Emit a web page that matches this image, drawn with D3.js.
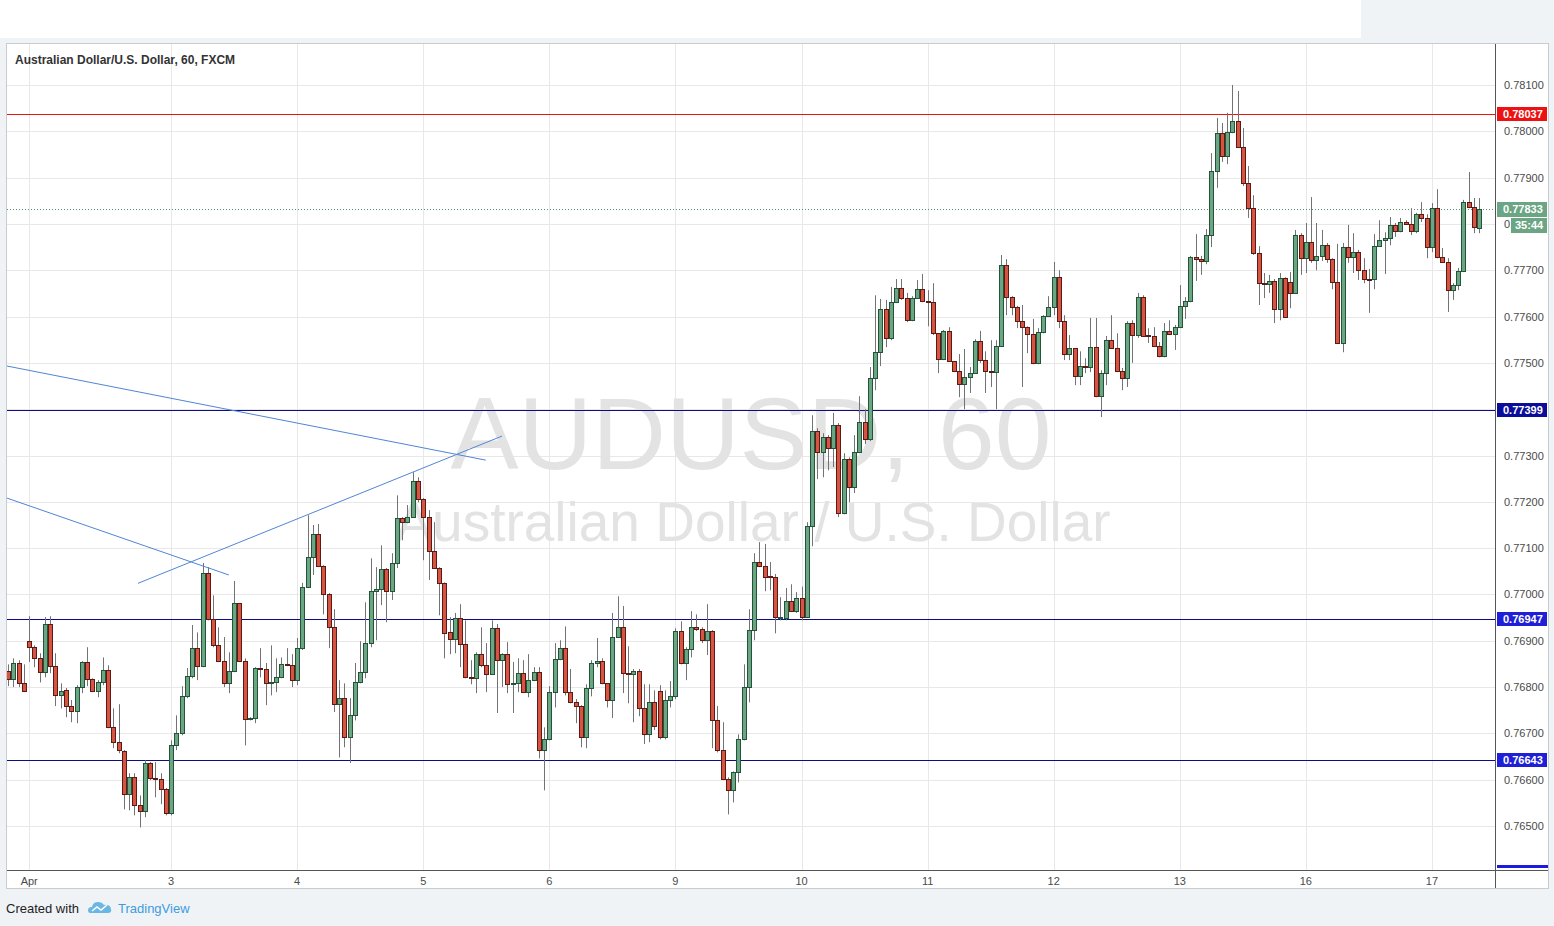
<!DOCTYPE html>
<html><head><meta charset="utf-8">
<script src="https://cdn.jsdelivr.net/npm/d3@7"></script>
<style>
html,body{margin:0;padding:0;background:#f0f3f6;}
svg{display:block;}
text{font-family:"Liberation Sans",Arial,sans-serif;}
</style></head><body>
<svg id="c" width="1554" height="926"></svg>
<script>
const symbolTitle = "Australian Dollar/U.S. Dollar, 60, FXCM";
const watermarkMain = "AUDUSD, 60";
const watermarkSub = "Australian Dollar / U.S. Dollar";
const monthNames = ["Jan","Feb","Mar","Apr","May","Jun","Jul","Aug","Sep","Oct","Nov","Dec"];
// trading sessions (UTC start, number of hourly bars)
const sessions = [["2018-03-30T17:00:00Z",4],["2018-04-01T21:00:00Z",120],["2018-04-08T21:00:00Z",120],["2018-04-15T21:00:00Z",37]];
const opens = [0.76834,0.76817,0.76852,0.76808,0.76899,0.76886,0.76862,0.76832,0.76936,0.76845,0.76782,0.76793,0.76759,0.76748,0.76800,0.76854,0.76817,0.76791,0.76810,0.76836,
0.76713,0.76681,0.76661,0.76569,0.76605,0.76545,0.76532,0.76636,0.76603,0.76601,0.76579,0.76528,0.76674,0.76700,0.76780,0.76823,0.76884,0.76845,0.77046,0.76947,
0.76890,0.76856,0.76808,0.76834,0.76981,0.76856,0.76731,0.76733,0.76841,0.76839,0.76808,0.76810,0.76821,0.76850,0.76848,0.76815,0.76884,0.77015,0.77080,0.77130,
0.77061,0.77001,0.76929,0.76763,0.76776,0.76692,0.76739,0.76810,0.76832,0.76895,0.77007,0.77011,0.77055,0.77007,0.77068,0.77165,0.77156,0.77167,0.77245,0.77206,
0.77167,0.77093,0.77057,0.77025,0.76918,0.76903,0.76949,0.76893,0.76821,0.76819,0.76871,0.76847,0.76828,0.76927,0.76858,0.76871,0.76806,0.76808,0.76830,0.76789,
0.76815,0.76832,0.76664,0.76687,0.76789,0.76860,0.76884,0.76789,0.76767,0.76759,0.76692,0.76798,0.76852,0.76856,0.76808,0.76772,0.76908,0.76929,0.76830,0.76828,
0.76834,0.76754,0.76698,0.76767,0.76791,0.76692,0.76772,0.76780,0.76921,0.76852,0.76882,0.76929,0.76925,0.76901,0.76921,0.76728,0.76664,0.76601,0.76577,0.76616,
0.76687,0.76800,0.76923,0.77070,0.77061,0.77039,0.77037,0.76949,0.76949,0.76985,0.76964,0.76992,0.76951,0.77147,0.77353,0.77307,0.77340,0.77316,0.77366,0.77176,
0.77292,0.77232,0.77307,0.77372,0.77335,0.77467,0.77523,0.77616,0.77554,0.77631,0.77662,0.77640,0.77592,0.77640,0.77659,0.77633,0.77631,0.77564,0.77508,0.77569,
0.77504,0.77482,0.77454,0.77469,0.77478,0.77547,0.77506,0.77482,0.77480,0.77536,0.77711,0.77642,0.77620,0.77590,0.77577,0.77562,0.77500,0.77566,0.77601,0.77620,
0.77685,0.77590,0.77519,0.77532,0.77471,0.77493,0.77491,0.77534,0.77428,0.77478,0.77549,0.77532,0.77482,0.77467,0.77586,0.77560,0.77642,0.77560,0.77558,0.77536,
0.77515,0.77569,0.77562,0.77577,0.77623,0.77633,0.77728,0.77724,0.77720,0.77776,0.77914,0.77996,0.77947,0.77998,0.78022,0.77966,0.77888,0.77834,0.77737,0.77672,
0.77670,0.77677,0.77616,0.77683,0.77674,0.77651,0.77776,0.77726,0.77761,0.77722,0.77731,0.77754,0.77724,0.77674,0.77543,0.77750,0.77728,0.77739,0.77700,0.77681,
0.77680,0.77752,0.77765,0.77770,0.77798,0.77785,0.77804,0.77800,0.77785,0.77821,0.77813,0.77750,0.77834,0.77728,0.77718,0.77657,0.77668,0.77698,0.77847,0.77836,
0.77793];
const highs = [0.76849,0.76862,0.76858,0.76849,0.76953,0.76890,0.76873,0.76951,0.76953,0.76873,0.76808,0.76798,0.76772,0.76804,0.76856,0.76886,0.76819,0.76815,0.76864,0.76847,
0.76754,0.76763,0.76664,0.76614,0.76614,0.76566,0.76642,0.76638,0.76638,0.76614,0.76582,0.76685,0.76739,0.76802,0.76841,0.76934,0.76918,0.77068,0.77059,0.76998,
0.76929,0.76908,0.76875,0.77029,0.76981,0.76862,0.76735,0.76843,0.76884,0.76852,0.76890,0.76862,0.76864,0.76884,0.76871,0.76906,0.77025,0.77171,0.77150,0.77152,
0.77063,0.77003,0.76968,0.76815,0.76808,0.76776,0.76852,0.76899,0.76983,0.77078,0.77059,0.77106,0.77057,0.77089,0.77214,0.77167,0.77193,0.77264,0.77253,0.77208,
0.77182,0.77156,0.77059,0.77026,0.76951,0.76960,0.76979,0.76944,0.76858,0.76875,0.76929,0.76895,0.76944,0.76936,0.76873,0.76897,0.76854,0.76862,0.76858,0.76871,
0.76843,0.76843,0.76713,0.76802,0.76895,0.76901,0.76931,0.76839,0.76774,0.76761,0.76806,0.76858,0.76906,0.76862,0.76808,0.76960,0.76996,0.76975,0.76888,0.76839,
0.76839,0.76806,0.76806,0.76793,0.76804,0.76793,0.76813,0.76927,0.76942,0.76886,0.76964,0.76957,0.76929,0.76979,0.76923,0.76759,0.76724,0.76605,0.76618,0.76698,
0.76849,0.76968,0.77089,0.77113,0.77109,0.77070,0.77044,0.76994,0.77014,0.77022,0.77005,0.77017,0.77156,0.77387,0.77359,0.77348,0.77344,0.77392,0.77370,0.77305,
0.77296,0.77344,0.77428,0.77400,0.77491,0.77646,0.77638,0.77636,0.77664,0.77681,0.77681,0.77651,0.77644,0.77679,0.77692,0.77657,0.77672,0.77564,0.77571,0.77577,
0.77504,0.77519,0.77530,0.77491,0.77551,0.77569,0.77525,0.77549,0.77549,0.77733,0.77724,0.77644,0.77623,0.77625,0.77579,0.77595,0.77575,0.77603,0.77644,0.77718,
0.77700,0.77603,0.77560,0.77532,0.77525,0.77510,0.77597,0.77597,0.77484,0.77558,0.77603,0.77564,0.77489,0.77590,0.77592,0.77651,0.77646,0.77575,0.77577,0.77545,
0.77586,0.77592,0.77582,0.77668,0.77642,0.77731,0.77778,0.77731,0.77789,0.77953,0.78029,0.78018,0.78040,0.78100,0.78087,0.78007,0.77925,0.77862,0.77752,0.77694,
0.77690,0.77681,0.77694,0.77685,0.77696,0.77787,0.77780,0.77802,0.77858,0.77802,0.77787,0.77759,0.77726,0.77757,0.77759,0.77798,0.77780,0.77744,0.77726,0.77703,
0.77778,0.77808,0.77782,0.77815,0.77802,0.77813,0.77808,0.77834,0.77824,0.77847,0.77821,0.77845,0.77875,0.77748,0.77726,0.77672,0.77705,0.77852,0.77912,0.77856,
0.77856];
const lows = [0.76802,0.76800,0.76800,0.76791,0.76854,0.76843,0.76810,0.76821,0.76830,0.76759,0.76754,0.76735,0.76724,0.76722,0.76787,0.76802,0.76789,0.76778,0.76804,0.76711,
0.76668,0.76657,0.76536,0.76534,0.76523,0.76497,0.76519,0.76599,0.76562,0.76547,0.76523,0.76523,0.76664,0.76696,0.76776,0.76819,0.76815,0.76843,0.76944,0.76886,
0.76854,0.76800,0.76787,0.76832,0.76854,0.76674,0.76728,0.76722,0.76821,0.76761,0.76782,0.76789,0.76819,0.76845,0.76800,0.76804,0.76880,0.77014,0.77042,0.77059,
0.76957,0.76884,0.76746,0.76648,0.76670,0.76636,0.76728,0.76808,0.76819,0.76886,0.76901,0.76977,0.76940,0.76988,0.77057,0.77117,0.77154,0.77165,0.77199,0.77074,
0.77031,0.77055,0.76955,0.76862,0.76871,0.76873,0.76843,0.76819,0.76806,0.76787,0.76843,0.76789,0.76826,0.76744,0.76800,0.76787,0.76744,0.76789,0.76787,0.76778,
0.76813,0.76646,0.76577,0.76685,0.76756,0.76858,0.76782,0.76765,0.76722,0.76670,0.76668,0.76780,0.76843,0.76806,0.76756,0.76733,0.76906,0.76787,0.76765,0.76724,
0.76737,0.76677,0.76681,0.76707,0.76687,0.76687,0.76756,0.76774,0.76849,0.76815,0.76864,0.76921,0.76895,0.76869,0.76668,0.76659,0.76599,0.76525,0.76551,0.76594,
0.76685,0.76767,0.76901,0.77059,0.77007,0.77009,0.76916,0.76944,0.76944,0.76962,0.76960,0.76944,0.76949,0.77104,0.77249,0.77253,0.77268,0.77275,0.77167,0.77173,
0.77199,0.77219,0.77305,0.77325,0.77331,0.77441,0.77493,0.77534,0.77549,0.77629,0.77636,0.77588,0.77590,0.77638,0.77631,0.77579,0.77560,0.77478,0.77506,0.77502,
0.77480,0.77426,0.77400,0.77435,0.77476,0.77500,0.77435,0.77448,0.77400,0.77536,0.77603,0.77603,0.77575,0.77448,0.77521,0.77497,0.77497,0.77564,0.77599,0.77603,
0.77575,0.77506,0.77506,0.77452,0.77452,0.77478,0.77480,0.77426,0.77383,0.77452,0.77530,0.77480,0.77441,0.77448,0.77500,0.77554,0.77556,0.77543,0.77534,0.77512,
0.77512,0.77560,0.77528,0.77575,0.77595,0.77631,0.77677,0.77690,0.77713,0.77750,0.77878,0.77934,0.77929,0.77996,0.77964,0.77882,0.77813,0.77733,0.77625,0.77640,
0.77651,0.77586,0.77592,0.77597,0.77618,0.77649,0.77690,0.77694,0.77716,0.77700,0.77720,0.77716,0.77659,0.77541,0.77523,0.77716,0.77694,0.77679,0.77672,0.77608,
0.77659,0.77750,0.77692,0.77754,0.77772,0.77782,0.77798,0.77776,0.77780,0.77804,0.77726,0.77739,0.77726,0.77716,0.77610,0.77636,0.77657,0.77696,0.77834,0.77780,
0.77780];
const closes = [0.76817,0.76852,0.76808,0.76791,0.76886,0.76862,0.76832,0.76936,0.76845,0.76782,0.76791,0.76759,0.76748,0.76800,0.76854,0.76817,0.76791,0.76810,0.76836,0.76713,
0.76681,0.76664,0.76569,0.76605,0.76545,0.76532,0.76636,0.76603,0.76601,0.76579,0.76528,0.76674,0.76700,0.76780,0.76823,0.76884,0.76845,0.77046,0.76947,0.76890,
0.76856,0.76808,0.76834,0.76981,0.76856,0.76731,0.76733,0.76841,0.76839,0.76808,0.76810,0.76821,0.76849,0.76848,0.76815,0.76884,0.77015,0.77080,0.77130,0.77061,
0.77001,0.76929,0.76763,0.76776,0.76692,0.76739,0.76810,0.76832,0.76895,0.77007,0.77011,0.77055,0.77007,0.77068,0.77165,0.77156,0.77167,0.77245,0.77206,0.77167,
0.77093,0.77057,0.77025,0.76918,0.76903,0.76949,0.76893,0.76821,0.76819,0.76871,0.76847,0.76828,0.76927,0.76858,0.76871,0.76806,0.76808,0.76830,0.76789,0.76815,
0.76832,0.76664,0.76687,0.76789,0.76860,0.76884,0.76789,0.76767,0.76759,0.76692,0.76798,0.76852,0.76856,0.76808,0.76772,0.76908,0.76929,0.76830,0.76828,0.76834,
0.76754,0.76698,0.76767,0.76715,0.76692,0.76772,0.76780,0.76921,0.76852,0.76882,0.76929,0.76925,0.76901,0.76921,0.76728,0.76664,0.76601,0.76577,0.76616,0.76687,
0.76800,0.76923,0.77070,0.77061,0.77037,0.77037,0.76951,0.76951,0.76985,0.76964,0.76992,0.76951,0.77147,0.77353,0.77307,0.77340,0.77316,0.77366,0.77176,0.77292,
0.77232,0.77307,0.77372,0.77335,0.77467,0.77523,0.77616,0.77554,0.77631,0.77662,0.77640,0.77592,0.77640,0.77659,0.77633,0.77631,0.77564,0.77508,0.77569,0.77504,
0.77482,0.77454,0.77469,0.77478,0.77547,0.77506,0.77482,0.77480,0.77536,0.77711,0.77642,0.77620,0.77590,0.77577,0.77562,0.77500,0.77566,0.77601,0.77620,0.77685,
0.77590,0.77519,0.77532,0.77471,0.77493,0.77491,0.77534,0.77428,0.77478,0.77549,0.77532,0.77482,0.77467,0.77586,0.77560,0.77642,0.77558,0.77558,0.77536,0.77515,
0.77569,0.77562,0.77577,0.77623,0.77633,0.77728,0.77724,0.77720,0.77776,0.77914,0.77996,0.77947,0.77998,0.78022,0.77966,0.77888,0.77834,0.77737,0.77672,0.77670,
0.77677,0.77616,0.77683,0.77599,0.77651,0.77776,0.77726,0.77761,0.77722,0.77731,0.77754,0.77724,0.77674,0.77543,0.77750,0.77728,0.77739,0.77700,0.77681,0.77680,
0.77752,0.77765,0.77770,0.77798,0.77785,0.77804,0.77800,0.77785,0.77821,0.77813,0.77750,0.77834,0.77728,0.77718,0.77657,0.77668,0.77698,0.77847,0.77836,0.77793,
0.77833];
const priceTicks = [0.78100,0.78000,0.77900,0.77800,0.77700,0.77600,0.77500,0.77400,0.77300,0.77200,0.77100,0.77000,0.76900,0.76800,0.76700,0.76600,0.76500];
const levelPrices = [0.78037,0.77399,0.76947,0.76643];
const levelColors = ["#e8150e","#0c0c86","#0c0c86","#0c0c86"];
const badgeColors = ["#ee1111","#0c0c9a","#1f1fd8","#1f1fd8"];
const lastPrice = 0.77833;
const countdown = "35:44";
// trend lines: [bar, price, bar, price]
const trendLines = [[-1.5,0.77496,90.9,0.77290],[-1.5,0.77213,42.0,0.77042],[24.7,0.77024,94.0,0.77342]];

const svg = d3.select("#c");
const L = 7, R = 1495, T = 44, B = 870;
const x = d3.scaleLinear().domain([-0.23, 283.0]).range([L, R]);
const y = d3.scaleLinear().domain([0.78100, 0.76500]).range([85, 826]);

const times = [];
sessions.forEach(([s, n]) => { const t0 = new Date(s).getTime(); for (let k = 0; k < n; k++) times.push(new Date(t0 + k * 3600e3)); });
const dayTicks = []; let lastX = -1e9;
times.forEach((t, i) => {
  let label = null;
  if (i > 0 && t.getUTCMonth() !== times[i - 1].getUTCMonth()) label = monthNames[t.getUTCMonth()];
  else if (t.getUTCHours() === 0) label = String(t.getUTCDate());
  if (label && x(i) - lastX > 60) { dayTicks.push({ i, label }); lastX = x(i); }
});

// page chrome
svg.append("rect").attr("x", 0).attr("y", 0).attr("width", 1361).attr("height", 38).attr("fill", "#ffffff");
svg.append("rect").attr("x", 6.5).attr("y", 43.5).attr("width", 1542).attr("height", 845).attr("fill", "#fff").attr("stroke", "#c8cbd0");

const defs = svg.append("defs");
defs.append("clipPath").attr("id", "plot").append("rect").attr("x", L).attr("y", T).attr("width", R - L).attr("height", B - T);
const plot = svg.append("g").attr("clip-path", "url(#plot)");

// grid
plot.append("g").selectAll("line").data(priceTicks).join("line")
  .attr("x1", L).attr("x2", R).attr("y1", d => Math.round(y(d)) + 0.5).attr("y2", d => Math.round(y(d)) + 0.5)
  .attr("stroke", "#e8e8e8");
plot.append("g").selectAll("line").data(dayTicks).join("line")
  .attr("x1", d => Math.round(x(d.i)) + 0.5).attr("x2", d => Math.round(x(d.i)) + 0.5).attr("y1", T).attr("y2", B)
  .attr("stroke", "#e8e8e8");

// watermark
plot.append("text").attr("x", (L + R) / 2).attr("y", 469).attr("text-anchor", "middle")
  .attr("font-size", 102).attr("fill", "#e3e3e3").text(watermarkMain);
plot.append("text").attr("x", (L + R) / 2 + 2).attr("y", 541).attr("text-anchor", "middle")
  .attr("font-size", 55).attr("fill", "#e3e3e3").text(watermarkSub);

// horizontal levels
plot.append("g").selectAll("line").data(levelPrices).join("line")
  .attr("x1", L).attr("x2", R).attr("y1", d => Math.round(y(d)) + 0.5).attr("y2", d => Math.round(y(d)) + 0.5)
  .attr("stroke", (d, i) => levelColors[i]).attr("stroke-width", 1);
plot.append("line").attr("x1", L).attr("x2", R).attr("y1", Math.round(y(lastPrice)) + 0.5).attr("y2", Math.round(y(lastPrice)) + 0.5)
  .attr("stroke", "#5a8f70").attr("stroke-dasharray", "1,2");

// trend lines
plot.append("g").selectAll("line").data(trendLines).join("line")
  .attr("x1", d => x(d[0])).attr("y1", d => y(d[1])).attr("x2", d => x(d[2])).attr("y2", d => y(d[3]))
  .attr("stroke", "#4f86d6").attr("stroke-width", 1);

// candles
const idx = d3.range(closes.length);
const cg = plot.append("g");
cg.selectAll("line").data(idx).join("line")
  .attr("x1", i => Math.round(x(i)) + 0.5).attr("x2", i => Math.round(x(i)) + 0.5)
  .attr("y1", i => y(highs[i])).attr("y2", i => y(lows[i]))
  .attr("stroke", "#737375").attr("stroke-width", 1);
cg.selectAll("rect").data(idx).join("rect")
  .attr("x", i => Math.round(x(i)) - 1.5)
  .attr("y", i => Math.round(y(Math.max(opens[i], closes[i]))) + 0.5)
  .attr("width", 4)
  .attr("height", i => Math.max(1, Math.round(Math.abs(y(opens[i]) - y(closes[i])))))
  .attr("fill", i => closes[i] >= opens[i] ? "#6ba583" : "#d75442")
  .attr("stroke", i => closes[i] >= opens[i] ? "#225437" : "#5b1a13")
  .attr("stroke-width", 1);

// axes lines
svg.append("line").attr("x1", R + 0.5).attr("x2", R + 0.5).attr("y1", T).attr("y2", 888).attr("stroke", "#555");
svg.append("line").attr("x1", L).attr("x2", 1548).attr("y1", B + 0.5).attr("y2", B + 0.5).attr("stroke", "#555");

// price axis labels (the part of a label hidden under the countdown badge is not drawn)
const cdY = Math.round(y(lastPrice)) + 9;
svg.append("g").selectAll("text").data(priceTicks).join("text")
  .attr("x", 1504).attr("y", d => y(d) + 4).attr("font-size", 11).attr("fill", "#4a4a4a")
  .text(d => {
    const s = d3.format(".5f")(d);
    const yy = y(d);
    return (yy > cdY - 6 && yy < cdY + 21) ? s.slice(0, 2) : s;
  });
// time axis labels
svg.append("g").selectAll("text").data(dayTicks).join("text")
  .attr("x", d => x(d.i)).attr("y", 885).attr("text-anchor", "middle").attr("font-size", 11).attr("fill", "#4a4a4a")
  .text(d => d.label);

// badges
const bg = svg.append("g");
levelPrices.forEach((p, i) => {
  const yy = Math.round(y(p));
  bg.append("rect").attr("x", 1497).attr("y", yy - 7).attr("width", 50).attr("height", 14).attr("fill", badgeColors[i]);
  bg.append("text").attr("x", 1503).attr("y", yy + 4).attr("font-size", 11).attr("fill", "#fff").attr("font-weight", "bold").text(d3.format(".5f")(p));
});
{
  const yy = Math.round(y(lastPrice));
  bg.append("rect").attr("x", 1497).attr("y", yy - 7).attr("width", 50).attr("height", 15).attr("fill", "#6ba583");
  bg.append("text").attr("x", 1503).attr("y", yy + 4).attr("font-size", 11).attr("fill", "#fff").attr("font-weight", "bold").text(d3.format(".5f")(lastPrice));
  bg.append("rect").attr("x", 1511).attr("y", cdY).attr("width", 36).attr("height", 15).attr("fill", "#6ba583");
  bg.append("text").attr("x", 1515).attr("y", cdY + 11).attr("font-size", 11).attr("fill", "#fff").attr("font-weight", "bold").text(countdown);
}
bg.append("rect").attr("x", 1497).attr("y", 865).attr("width", 51).attr("height", 3).attr("fill", "#1a1ae0");

// title
svg.append("text").attr("x", 15).attr("y", 64).attr("font-size", 12).attr("fill", "#333").attr("font-weight", "bold").text(symbolTitle);

// footer
svg.append("text").attr("x", 6).attr("y", 913).attr("font-size", 13).attr("fill", "#222").text("Created with");
const logo = svg.append("g").attr("transform", "translate(88,899)");
logo.append("path").attr("d", "M2 14 Q0 14 0 11 Q0 8 4 8 Q5 3 10 3 Q14 3 16 6 Q22 5 23 10 Q24 14 20 14 Z").attr("fill", "#6ab7e6");
logo.append("path").attr("d", "M4 12 L9 8 L13 11 L19 6").attr("stroke", "#fff").attr("stroke-width", 1.5).attr("fill", "none");
svg.append("text").attr("x", 118).attr("y", 913).attr("font-size", 13).attr("fill", "#3d9be0").text("TradingView");
</script>
</body></html>
